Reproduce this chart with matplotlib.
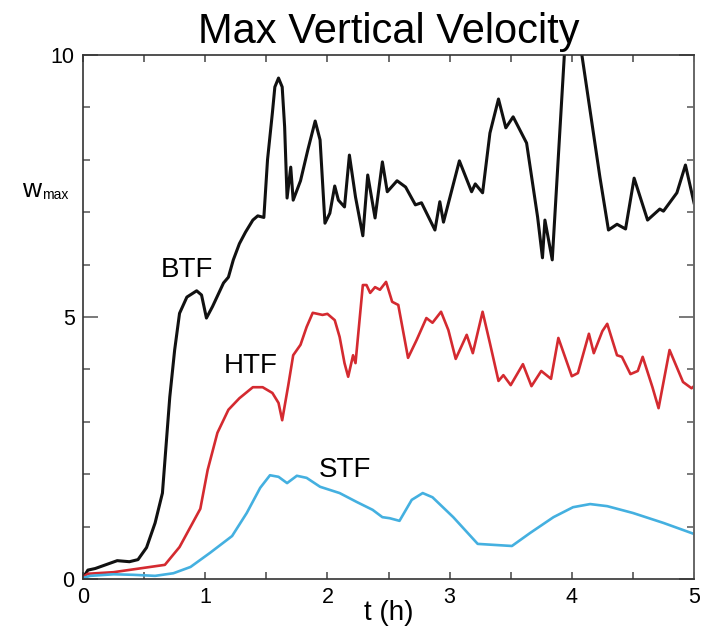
import matplotlib
matplotlib.use('Agg')
import matplotlib.pyplot as plt
from matplotlib.ticker import MultipleLocator

plt.rcParams['font.family'] = ['Liberation Sans', 'DejaVu Sans']

# 数据
t_btf = [0.0, 0.04, 0.10, 0.28, 0.38, 0.45, 0.52, 0.59, 0.65, 0.71, 0.75, 0.79,
         0.85, 0.93, 0.97, 1.01, 1.06, 1.15, 1.19, 1.23, 1.28, 1.33, 1.39, 1.43,
         1.48, 1.51, 1.55, 1.57, 1.60, 1.63, 1.65, 1.67, 1.70, 1.72, 1.78, 1.84,
         1.90, 1.94, 1.98, 2.02, 2.06, 2.09, 2.14, 2.18, 2.23, 2.29, 2.33, 2.39,
         2.45, 2.49, 2.57, 2.64, 2.72, 2.77, 2.88, 2.92, 2.95, 3.08, 3.18, 3.21,
         3.27, 3.33, 3.40, 3.46, 3.52, 3.63, 3.72, 3.76, 3.78, 3.84, 3.94, 4.01,
         4.08, 4.23, 4.30, 4.37, 4.44, 4.51, 4.62, 4.72, 4.75, 4.86, 4.93, 5.0]
w_btf = [0.02, 0.17, 0.20, 0.35, 0.33, 0.37, 0.60, 1.07, 1.64, 3.47, 4.37, 5.07,
         5.38, 5.50, 5.42, 4.98, 5.20, 5.65, 5.76, 6.09, 6.40, 6.62, 6.85, 6.93,
         6.90, 8.00, 8.90, 9.39, 9.56, 9.39, 8.63, 7.27, 7.86, 7.23, 7.60, 8.19,
         8.74, 8.38, 6.79, 6.98, 7.50, 7.23, 7.10, 8.09, 7.29, 6.55, 7.71, 6.89,
         7.96, 7.39, 7.60, 7.48, 7.14, 7.18, 6.66, 7.20, 6.81, 7.98, 7.39, 7.54,
         7.37, 8.51, 9.16, 8.61, 8.82, 8.32, 6.91, 6.13, 6.85, 6.09, 10.04, 10.6,
         10.04, 7.67, 6.66, 6.77, 6.68, 7.65, 6.85, 7.06, 7.02, 7.37, 7.90, 7.18]

t_htf = [0.0, 0.04, 0.25, 0.67, 0.79, 0.96, 1.02, 1.10, 1.19, 1.28, 1.39, 1.47,
         1.55, 1.60, 1.63, 1.68, 1.72, 1.78, 1.83, 1.88, 1.96, 2.00, 2.06, 2.10,
         2.14, 2.17, 2.21, 2.23, 2.29, 2.32, 2.35, 2.39, 2.43, 2.48, 2.53, 2.58,
         2.66, 2.73, 2.81, 2.86, 2.93, 2.99, 3.05, 3.14, 3.19, 3.27, 3.33, 3.40,
         3.44, 3.50, 3.60, 3.67, 3.75, 3.83, 3.89, 4.00, 4.05, 4.14, 4.18, 4.25,
         4.29, 4.37, 4.41, 4.48, 4.54, 4.58, 4.66, 4.71, 4.80, 4.91, 4.98, 5.0]
w_htf = [0.04, 0.10, 0.13, 0.27, 0.61, 1.34, 2.08, 2.79, 3.23, 3.45, 3.66, 3.66,
         3.55, 3.36, 3.03, 3.70, 4.27, 4.47, 4.81, 5.08, 5.04, 5.06, 4.94, 4.62,
         4.12, 3.86, 4.27, 4.12, 5.61, 5.61, 5.46, 5.57, 5.52, 5.67, 5.29, 5.23,
         4.22, 4.56, 4.98, 4.89, 5.10, 4.75, 4.20, 4.66, 4.31, 5.10, 4.50, 3.78,
         3.89, 3.70, 4.10, 3.68, 3.97, 3.82, 4.60, 3.87, 3.93, 4.68, 4.31, 4.73,
         4.87, 4.27, 4.24, 3.91, 3.97, 4.24, 3.66, 3.26, 4.37, 3.76, 3.64, 3.68]

t_stf = [0.0, 0.06, 0.25, 0.41, 0.59, 0.74, 0.88, 1.04, 1.22, 1.34, 1.45, 1.53,
         1.60, 1.67, 1.75, 1.83, 1.94, 2.10, 2.24, 2.37, 2.45, 2.51, 2.59, 2.69,
         2.78, 2.86, 3.03, 3.23, 3.51, 3.66, 3.85, 4.01, 4.15, 4.29, 4.50, 4.75, 5.0]
w_stf = [0.02, 0.06, 0.09, 0.08, 0.06, 0.11, 0.23, 0.50, 0.82, 1.26, 1.74, 1.98,
         1.95, 1.83, 1.97, 1.93, 1.76, 1.64, 1.47, 1.32, 1.18, 1.16, 1.11, 1.51,
         1.64, 1.56, 1.18, 0.67, 0.63, 0.88, 1.18, 1.37, 1.43, 1.39, 1.26, 1.07, 0.86]

fig = plt.figure(figsize=(7.08, 6.30), dpi=100)
ax = fig.add_axes([83/708, 1 - 579/630, 611/708, 524/630])

ax.plot(t_btf, w_btf, color='#111111', lw=2.2, solid_joinstyle='round')
ax.plot(t_htf, w_htf, color='#d42a30', lw=1.9, solid_joinstyle='round')
ax.plot(t_stf, w_stf, color='#44b0e0', lw=1.9, solid_joinstyle='round')

ax.set_xlim(0, 5)
ax.set_ylim(0, 10)

# 刻度设置
ax.xaxis.set_major_locator(MultipleLocator(1))
ax.xaxis.set_minor_locator(MultipleLocator(0.5))
ax.yaxis.set_major_locator(MultipleLocator(5))
ax.yaxis.set_minor_locator(MultipleLocator(1))
ax.tick_params(axis='x', which='both', direction='in', top=True, length=5,
               width=1.1, color='#444444', labelsize=15.5, pad=6)
ax.tick_params(axis='y', which='major', direction='in', right=True, length=11,
               width=1.1, color='#555555', labelsize=15.5, pad=6)
ax.tick_params(axis='y', which='minor', direction='in', right=True, length=5,
               width=1.1, color='#555555')

for side in ['left', 'bottom', 'top']:
    ax.spines[side].set_color('#333333')
    ax.spines[side].set_linewidth(1.2)
ax.spines['right'].set_color('#666666')
ax.spines['right'].set_linewidth(1.4)

ax.set_xlabel('t (h)', fontsize=20, labelpad=-6)
ax.set_title('Max Vertical Velocity', fontsize=30, pad=9)

# y 轴标签 w_max
ax.text(-0.1, 0.742, 'w', transform=ax.transAxes, fontsize=19, va='center', ha='left')
ax.text(-0.067, 0.733, 'max', transform=ax.transAxes, fontsize=10, va='center', ha='left')

# 曲线标注
ax.text(0.85, 5.9, 'BTF', fontsize=20, ha='center', va='center')
ax.text(1.37, 4.06, 'HTF', fontsize=20, ha='center', va='center')
ax.text(2.14, 2.08, 'STF', fontsize=20, ha='center', va='center')

fig.savefig('out.png', dpi=100)
